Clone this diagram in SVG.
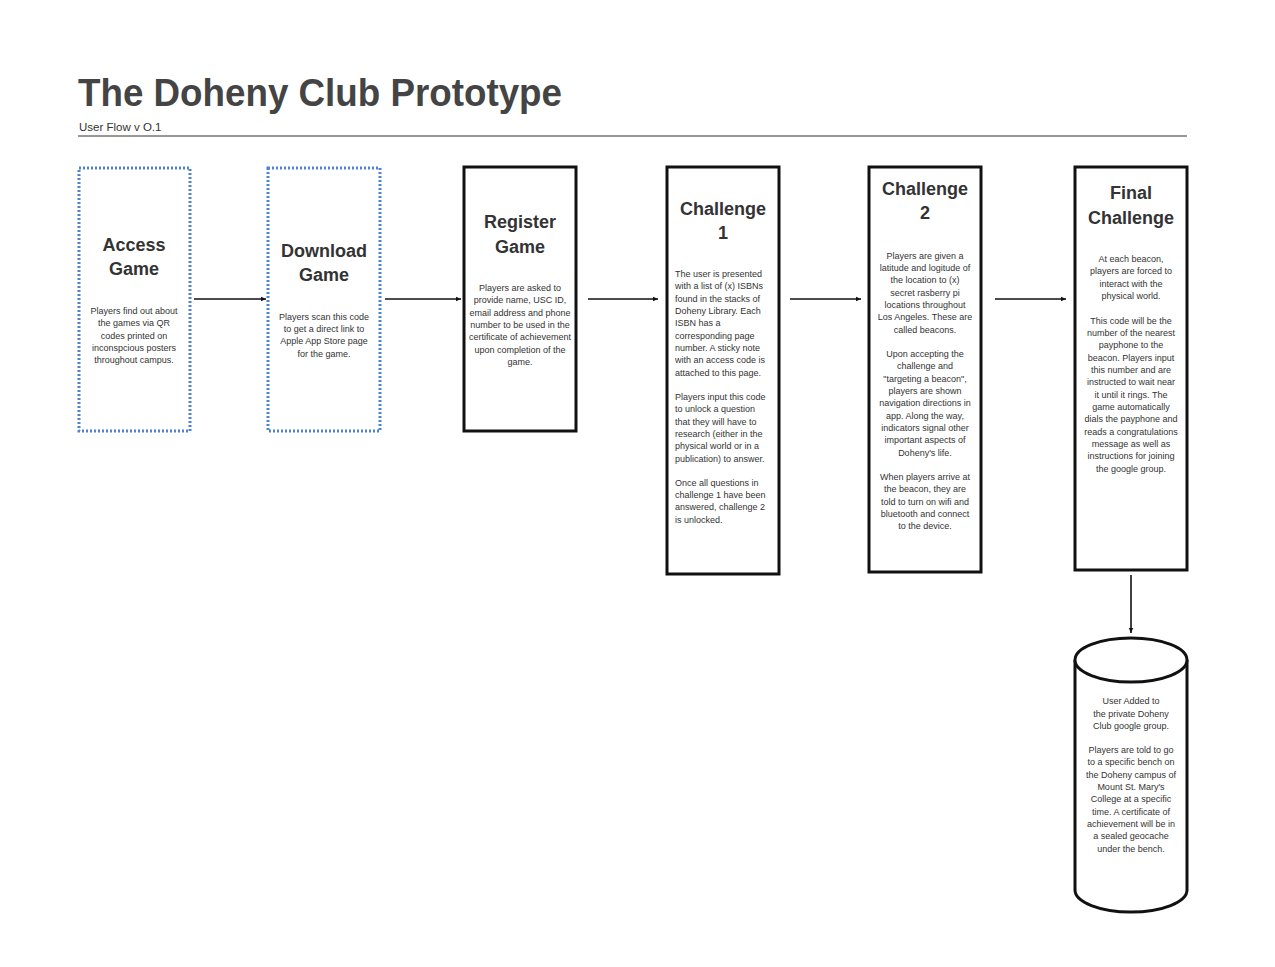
<svg xmlns="http://www.w3.org/2000/svg" width="1275" height="967" viewBox="0 0 1275 967">
<defs>
<marker id="arr" viewBox="0 0 10 10" refX="9" refY="5" markerWidth="6" markerHeight="6" orient="auto" markerUnits="userSpaceOnUse">
<path d="M0,1 L9,5 L0,9 Z" fill="#111"/>
</marker>
<style>
.dot{fill:#fff;stroke:#4f82d6;stroke-width:3;stroke-dasharray:2 2}
.box{fill:#fff;stroke:#111;stroke-width:3}
.h{font-family:"Liberation Sans",Arial,sans-serif;font-weight:bold;font-size:18px;fill:#333;text-anchor:middle}
.b{font-family:"Liberation Sans",Arial,sans-serif;font-size:9px;fill:#333;text-anchor:middle}
.bl{font-family:"Liberation Sans",Arial,sans-serif;font-size:9px;fill:#333;text-anchor:start}
.c{stroke:#111;stroke-width:1.6;fill:none;marker-end:url(#arr)}
</style>
</defs>
<rect width="1275" height="967" fill="#fff"/>
<g id="title">
<text x="78" y="106" font-family="'Liberation Sans',Arial,sans-serif" font-weight="bold" font-size="38" fill="#444" textLength="484" lengthAdjust="spacingAndGlyphs">The Doheny Club Prototype</text>
<text x="79" y="131" font-family="'Liberation Sans',Arial,sans-serif" font-size="11.5" fill="#333">User Flow v O.1</text>
<line x1="78" y1="136" x2="1187" y2="136" stroke="#333" stroke-width="1.2"/>
</g>
<g id="connectors">
<line class="c" x1="194" y1="299" x2="266" y2="299"/>
<line class="c" x1="385" y1="299" x2="461" y2="299"/>
<line class="c" x1="588" y1="299" x2="658" y2="299"/>
<line class="c" x1="790" y1="299" x2="861" y2="299"/>
<line class="c" x1="995" y1="299" x2="1066" y2="299"/>
<line class="c" x1="1131" y1="575" x2="1131" y2="633"/>
</g>
<g id="access-game">
<rect class="dot" x="79" y="168" width="111" height="263"/>
<text class="h" x="134" y="251">Access</text>
<text class="h" x="134" y="275">Game</text>
<text class="b" x="134" y="314">Players find out about</text>
<text class="b" x="134" y="326">the games via QR</text>
<text class="b" x="134" y="339">codes printed on</text>
<text class="b" x="134" y="351">inconspcious posters</text>
<text class="b" x="134" y="363">throughout campus.</text>
</g>
<g id="download-game">
<rect class="dot" x="268" y="168" width="112" height="263"/>
<text class="h" x="324" y="257">Download</text>
<text class="h" x="324" y="281">Game</text>
<text class="b" x="324" y="320">Players scan this code</text>
<text class="b" x="324" y="332">to get a direct link to</text>
<text class="b" x="324" y="344">Apple App Store page</text>
<text class="b" x="324" y="357">for the game.</text>
</g>
<g id="register-game">
<rect class="box" x="464" y="167" width="112" height="264"/>
<text class="h" x="520" y="228">Register</text>
<text class="h" x="520" y="253">Game</text>
<text class="b" x="520" y="291">Players are asked to</text>
<text class="b" x="520" y="303">provide name, USC ID,</text>
<text class="b" x="520" y="316">email address and phone</text>
<text class="b" x="520" y="328">number to be used in the</text>
<text class="b" x="520" y="340">certificate of achievement</text>
<text class="b" x="520" y="353">upon completion of the</text>
<text class="b" x="520" y="365">game.</text>
</g>
<g id="challenge-1">
<rect class="box" x="667" y="167" width="112" height="407"/>
<text class="h" x="723" y="215">Challenge</text>
<text class="h" x="723" y="239">1</text>
<text class="bl" x="675" y="277">The user is presented</text>
<text class="bl" x="675" y="289">with a list of (x) ISBNs</text>
<text class="bl" x="675" y="302">found in the stacks of</text>
<text class="bl" x="675" y="314">Doheny Library. Each</text>
<text class="bl" x="675" y="326">ISBN has a</text>
<text class="bl" x="675" y="339">corresponding page</text>
<text class="bl" x="675" y="351">number. A sticky note</text>
<text class="bl" x="675" y="363">with an access code is</text>
<text class="bl" x="675" y="376">attached to this page.</text>
<text class="bl" x="675" y="400">Players input this code</text>
<text class="bl" x="675" y="412">to unlock a question</text>
<text class="bl" x="675" y="425">that they will have to</text>
<text class="bl" x="675" y="437">research (either in the</text>
<text class="bl" x="675" y="449">physical world or in a</text>
<text class="bl" x="675" y="462">publication) to answer.</text>
<text class="bl" x="675" y="486">Once all questions in</text>
<text class="bl" x="675" y="498">challenge 1 have been</text>
<text class="bl" x="675" y="510">answered, challenge 2</text>
<text class="bl" x="675" y="523">is unlocked.</text>
</g>
<g id="challenge-2">
<rect class="box" x="869" y="167" width="112" height="405"/>
<text class="h" x="925" y="195">Challenge</text>
<text class="h" x="925" y="219">2</text>
<text class="b" x="925" y="259">Players are given a</text>
<text class="b" x="925" y="271">latitude and logitude of</text>
<text class="b" x="925" y="283">the location to (x)</text>
<text class="b" x="925" y="296">secret rasberry pi</text>
<text class="b" x="925" y="308">locations throughout</text>
<text class="b" x="925" y="320">Los Angeles. These are</text>
<text class="b" x="925" y="333">called beacons.</text>
<text class="b" x="925" y="357">Upon accepting the</text>
<text class="b" x="925" y="369">challenge and</text>
<text class="b" x="925" y="382">"targeting a beacon",</text>
<text class="b" x="925" y="394">players are shown</text>
<text class="b" x="925" y="406">navigation directions in</text>
<text class="b" x="925" y="419">app. Along the way,</text>
<text class="b" x="925" y="431">indicators signal other</text>
<text class="b" x="925" y="443">important aspects of</text>
<text class="b" x="925" y="456">Doheny's life.</text>
<text class="b" x="925" y="480">When players arrive at</text>
<text class="b" x="925" y="492">the beacon, they are</text>
<text class="b" x="925" y="505">told to turn on wifi and</text>
<text class="b" x="925" y="517">bluetooth and connect</text>
<text class="b" x="925" y="529">to the device.</text>
</g>
<g id="final-challenge">
<rect class="box" x="1075" y="167" width="112" height="403"/>
<text class="h" x="1131" y="199">Final</text>
<text class="h" x="1131" y="224">Challenge</text>
<text class="b" x="1131" y="262">At each beacon,</text>
<text class="b" x="1131" y="274">players are forced to</text>
<text class="b" x="1131" y="287">interact with the</text>
<text class="b" x="1131" y="299">physical world.</text>
<text class="b" x="1131" y="324">This code will be the</text>
<text class="b" x="1131" y="336">number of the nearest</text>
<text class="b" x="1131" y="348">payphone to the</text>
<text class="b" x="1131" y="361">beacon. Players input</text>
<text class="b" x="1131" y="373">this number and are</text>
<text class="b" x="1131" y="385">instructed to wait near</text>
<text class="b" x="1131" y="398">it until it rings. The</text>
<text class="b" x="1131" y="410">game automatically</text>
<text class="b" x="1131" y="422">dials the payphone and</text>
<text class="b" x="1131" y="435">reads a congratulations</text>
<text class="b" x="1131" y="447">message as well as</text>
<text class="b" x="1131" y="459">instructions for joining</text>
<text class="b" x="1131" y="472">the google group.</text>
</g>
<g id="google-group">
<path d="M1075,660 L1075,890 A56,22 0 0 0 1187,890 L1187,660" fill="#fff" stroke="#111" stroke-width="3"/>
<ellipse cx="1131" cy="660" rx="56" ry="22" fill="#fff" stroke="#111" stroke-width="3"/>
<text class="b" x="1131" y="704">User Added to</text>
<text class="b" x="1131" y="717">the private Doheny</text>
<text class="b" x="1131" y="729">Club google group.</text>
<text class="b" x="1131" y="753">Players are told to go</text>
<text class="b" x="1131" y="765">to a specific bench on</text>
<text class="b" x="1131" y="778">the Doheny campus of</text>
<text class="b" x="1131" y="790">Mount St. Mary's</text>
<text class="b" x="1131" y="802">College at a specific</text>
<text class="b" x="1131" y="815">time. A certificate of</text>
<text class="b" x="1131" y="827">achievement will be in</text>
<text class="b" x="1131" y="839">a sealed geocache</text>
<text class="b" x="1131" y="852">under the bench.</text>
</g>
</svg>
